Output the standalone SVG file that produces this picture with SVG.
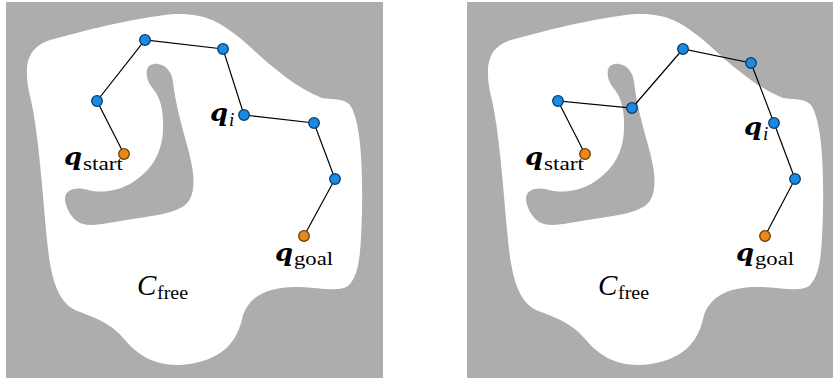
<svg xmlns="http://www.w3.org/2000/svg" xmlns:xlink="http://www.w3.org/1999/xlink" width="833" height="378" viewBox="0 0 833 378">
<style>
.bg{fill:#adadad}
.free{fill:#ffffff}
.obs{fill:#adadad}
.edge{stroke:#000;stroke-width:1.2;fill:none}
.nb{fill:#1a8ae2;stroke:#0b3d6b;stroke-width:1.3}
.no{fill:#e8891c;stroke:#6e3d00;stroke-width:1.3}
.q{font-family:"DejaVu Serif",serif;font-weight:bold;font-style:italic;font-size:24px;fill:#000}
.sub{font-family:"Liberation Serif",serif;font-size:19px;fill:#000}
.subi{font-family:"Liberation Serif",serif;font-style:italic;font-size:19px;fill:#000}
.cal{font-family:"Liberation Serif",serif;font-style:italic;font-size:29px;fill:#000}
</style>
<defs>
<g id="world">
<rect class="bg" x="6" y="2" width="377" height="376"/>
<path class="free" d="M27,75 C26,55 35,45 50,40 C80,32 130,18 175,14 C205,13 220,22 240,38 C265,60 290,85 322,98 C335,100 343,98 350,105 C360,120 363,160 362,210 C361,250 360,275 348,286 C340,292 320,288 300,287 C270,286 250,295 243,315 C238,340 225,358 190,364 C160,368 140,358 125,340 C110,322 95,318 75,310 C55,300 50,270 47,240 C43,200 40,150 33,110 C30,95 27,85 27,75 Z"/>
<path class="obs" d="M147,76 C145,66 152,63 158,64 C166,65 172,72 173,82 C175,100 180,120 187,145 C194,170 197,190 188,202 C180,212 160,215 133,219 C110,222 95,227 83,224 C72,221 65,207 65,198 C66,188 78,187 88,190 C100,193 115,192 130,184 C150,172 162,155 163,130 C164,110 160,98 154,90 C150,85 147,80 147,76 Z"/>
</g>
</defs>

<g id="left-panel">
<use xlink:href="#world" href="#world"/>
</g>
<g id="right-panel">
<use xlink:href="#world" href="#world" transform="translate(461,0)"/>
</g>

<g id="connectors">
<polyline class="edge" points="124,154 97,101 145,40 223,49 244,115 314,123 335,179 304,236"/>
<polyline class="edge" points="585,154 558,101 632,108 683,49 751,63 774,123 795,179 765,236"/>
</g>

<g id="L-start"><circle class="no" cx="124" cy="154" r="5.3"/></g>
<g id="L-n1"><circle class="nb" cx="97" cy="101" r="5.3"/></g>
<g id="L-n2"><circle class="nb" cx="145" cy="40" r="5.3"/></g>
<g id="L-n3"><circle class="nb" cx="223" cy="49" r="5.3"/></g>
<g id="L-qi"><circle class="nb" cx="244" cy="115" r="5.3"/></g>
<g id="L-n5"><circle class="nb" cx="314" cy="123" r="5.3"/></g>
<g id="L-n6"><circle class="nb" cx="335" cy="179" r="5.3"/></g>
<g id="L-goal"><circle class="no" cx="304" cy="236" r="5.3"/></g>

<g id="R-start"><circle class="no" cx="585" cy="154" r="5.3"/></g>
<g id="R-n1"><circle class="nb" cx="558" cy="101" r="5.3"/></g>
<g id="R-n2"><circle class="nb" cx="632" cy="108" r="5.3"/></g>
<g id="R-n3"><circle class="nb" cx="683" cy="49" r="5.3"/></g>
<g id="R-n4"><circle class="nb" cx="751" cy="63" r="5.3"/></g>
<g id="R-qi"><circle class="nb" cx="774" cy="123" r="5.3"/></g>
<g id="R-n6"><circle class="nb" cx="795" cy="179" r="5.3"/></g>
<g id="R-goal"><circle class="no" cx="765" cy="236" r="5.3"/></g>

<g id="labels">
<text class="q" x="64" y="165" textLength="18" lengthAdjust="spacingAndGlyphs">q</text>
<text class="sub" x="83" y="170" textLength="40" lengthAdjust="spacingAndGlyphs">start</text>
<text class="q" x="210" y="121" textLength="18" lengthAdjust="spacingAndGlyphs">q</text>
<text class="subi" x="229" y="126">i</text>
<text class="q" x="275" y="261" textLength="18" lengthAdjust="spacingAndGlyphs">q</text>
<text class="sub" x="294" y="265" textLength="39" lengthAdjust="spacingAndGlyphs">goal</text>
<text class="cal" x="137" y="295">C</text>
<text class="sub" x="157" y="299" textLength="31" lengthAdjust="spacingAndGlyphs">free</text>

<text class="q" x="525" y="165" textLength="18" lengthAdjust="spacingAndGlyphs">q</text>
<text class="sub" x="544" y="170" textLength="40" lengthAdjust="spacingAndGlyphs">start</text>
<text class="q" x="744" y="135" textLength="18" lengthAdjust="spacingAndGlyphs">q</text>
<text class="subi" x="763" y="140">i</text>
<text class="q" x="736" y="261" textLength="18" lengthAdjust="spacingAndGlyphs">q</text>
<text class="sub" x="755" y="265" textLength="39" lengthAdjust="spacingAndGlyphs">goal</text>
<text class="cal" x="598" y="295">C</text>
<text class="sub" x="618" y="299" textLength="31" lengthAdjust="spacingAndGlyphs">free</text>
</g>
</svg>
